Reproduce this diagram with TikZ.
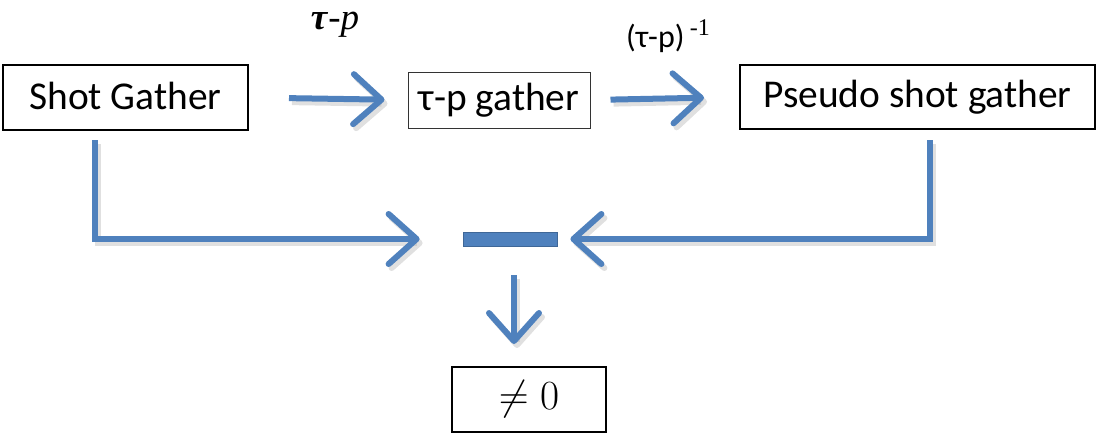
\documentclass[tikz,border=0pt]{standalone}
\usepackage{fontspec}
\setmainfont{Carlito}
\newfontfamily\serifx{Liberation Serif}
\usetikzlibrary{arrows.meta,calc}
\definecolor{ablue}{HTML}{4F81BD}
\tikzset{
  box/.style={draw=black, line width=1pt, rectangle, inner sep=0pt, font=\fontsize{19.7}{22}\selectfont},
  flow/.style={draw=ablue, line width=3pt, -{Straight Barb[length=14pt,width=25pt,line cap=round,line join=round]}},
  shade/.style={draw=black!35, opacity=0.35, line width=3pt, -{Straight Barb[length=14pt,width=25pt,line cap=round,line join=round]}, transform canvas={shift={(1.5pt,-2pt)}}}
}
\begin{document}
\begin{tikzpicture}[x=0.5pt,y=-0.5pt]
\useasboundingbox (0,0) rectangle (1112,435);
\node[box, minimum width=122.5pt, minimum height=32.5pt] (shot) at (125.5,97.5) {\raisebox{1.5pt}{Shot Gather}\hspace{7.5pt}};
\node[box, line width=0.5pt, draw=black!80, minimum width=91pt, minimum height=28pt] (tau) at (499,100) {τ-p gather};
\node[box, minimum width=177.5pt, minimum height=32pt] (pseudo) at (917.5,97) {Pseudo shot gather\hspace{4pt}};
\node[box, minimum width=77pt, minimum height=32.5pt, font=\fontsize{21}{24}\selectfont] (ne) at (529,399.5) {$\neq 0$\hspace{8pt}};
\node[fill=ablue, draw=ablue!80!black, line width=0.4pt, minimum width=47pt, minimum height=7pt, inner sep=0pt] (minus) at (510,239) {};
\node[font=\serifx\fontsize{18.5}{21}\selectfont] (l1) at (335,25) {\textbf{\textit{τ}}-\textit{p}};
\node[font=\fontsize{16}{18}\selectfont] (l2) at (668,36) {(τ-p)\,\raisebox{6pt}{\serifx\fontsize{12}{14}\selectfont -1}};
\coordinate (l0) at (95,140);
\coordinate (r0) at (930,140);
% shadows
\draw[shade, shorten <=20pt, shorten >=11.5pt] (shot.east) -- (tau.west);
\draw[shade, shorten <=10pt, shorten >=17.5pt] (tau.east) -- (pseudo.west);
\draw[shade, shorten >=21.5pt] (l0) |- (minus.west);
\draw[shade, shorten >=6.5pt] (r0) |- (minus.east);
\draw[shade, shorten <=14.5pt, shorten >=11pt] ([xshift=2pt]minus.south) -- ([xshift=2pt]minus.south |- ne.north);
% arrows
\draw[flow, shorten <=20pt, shorten >=11.5pt] (shot.east) -- (tau.west);
\draw[flow, shorten <=10pt, shorten >=17.5pt] (tau.east) -- (pseudo.west);
\draw[flow, shorten >=21.5pt] (l0) |- (minus.west);
\draw[flow, shorten >=6.5pt] (r0) |- (minus.east);
\draw[flow, shorten <=14.5pt, shorten >=11pt] ([xshift=2pt]minus.south) -- ([xshift=2pt]minus.south |- ne.north);
\end{tikzpicture}
\end{document}
